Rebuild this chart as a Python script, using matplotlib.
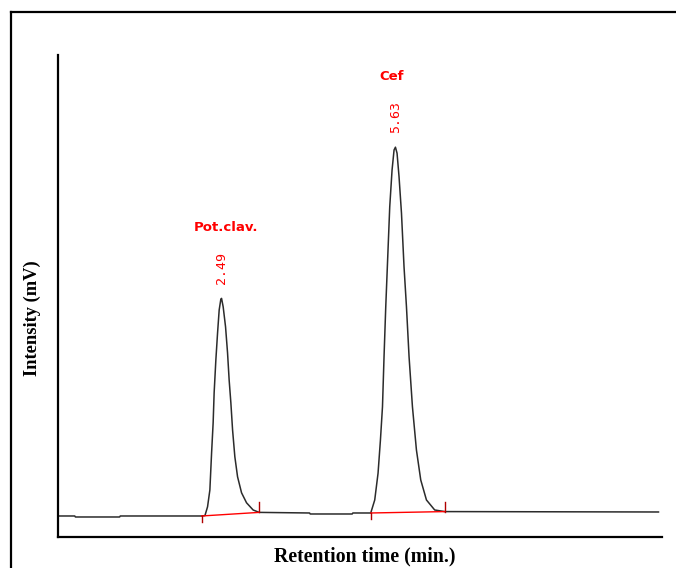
import numpy as np
import matplotlib
matplotlib.use("Agg")
import matplotlib.pyplot as plt
from matplotlib.lines import Line2D

# chromatogram trace: time (min) and intensity (mV)
timeMin = [-0.45, -0.16, -0.15, 0.65, 0.66, 2.13, 2.19, 2.237, 2.279, 2.310, 2.338, 2.356,
           2.387, 2.418, 2.447, 2.477, 2.49, 2.519, 2.562, 2.598, 2.627, 2.658, 2.689,
           2.730, 2.779, 2.851, 2.941, 3.060, 3.169, 4.08, 4.09, 4.85, 4.86, 5.184,
           5.256, 5.316, 5.359, 5.396, 5.424, 5.455, 5.491, 5.527, 5.569, 5.605, 5.63,
           5.659, 5.695, 5.739, 5.785, 5.829, 5.876, 5.937, 6.009, 6.087, 6.190, 6.339,
           6.520, 10.38]
intensity = [0.0, 0.0, -0.25, -0.25, 0.0, 0.0, 0.1, 2.3, 6.5, 15.8, 23.3, 30.8,
             39.0, 45.8, 51.5, 54.2, 54.4, 52.3, 47.3, 40.8, 34.0, 28.3, 21.5,
             14.8, 9.8, 5.8, 3.3, 1.5, 0.9, 0.75, 0.5, 0.5, 0.75, 0.75,
             4.0, 10.7, 19.0, 27.3, 39.8, 52.3, 64.8, 77.3, 86.5, 91.5, 92.2,
             90.7, 84.8, 75.7, 62.3, 52.3, 39.8, 27.3, 16.5, 9.0, 4.0, 1.5,
             1.1, 1.0]

peakNames = ["Pot.clav.", "Cef"]
peakTimes = [2.49, 5.63]
peakLabels = ["2.49", "5.63"]
peakStart = [2.13, 5.184]
peakEnd = [3.169, 6.52]

if __name__ == "__main__":
    t = np.array(timeMin)
    sig = np.array(intensity)

    fig = plt.figure(figsize=(6.76, 5.68), dpi=100)
    ax = fig.add_axes([0.0865, 0.0546, 0.8925, 0.8486])

    ax.plot(t, sig, c="#2b2b2b", lw=1.1, zorder=2)

    nameDx = [3.0, -2.5]   # horizontal shift of the peak names, points
    for pIdx in range(len(peakTimes)):
        y0 = np.interp(peakStart[pIdx], t, sig)
        y1 = np.interp(peakEnd[pIdx], t, sig)
        ax.plot([peakStart[pIdx], peakEnd[pIdx]], [y0, y1], c="red", lw=1.0, zorder=3)
        # start/end tick marks
        ax.plot([peakStart[pIdx]] * 2, [y0, y0 - 1.6], c="#b00000", lw=1.0, zorder=3)
        ax.plot([peakEnd[pIdx]] * 2, [y1, y1 + 2.5], c="#b00000", lw=1.0, zorder=3)
        apex = np.interp(peakTimes[pIdx], t, sig)
        ax.annotate(peakLabels[pIdx], xy=(peakTimes[pIdx], apex), xytext=(0, 10.5),
                    textcoords="offset points", rotation=90, ha="center", va="bottom",
                    color="red", fontsize=9.5, family="DejaVu Sans Mono")
        ax.annotate(peakNames[pIdx], xy=(peakTimes[pIdx], apex), xytext=(nameDx[pIdx], 46),
                    textcoords="offset points", ha="center", va="bottom",
                    color="red", fontsize=9.5, fontweight="bold", family="DejaVu Sans")

    ax.set_xlim(-0.455, 10.44)
    ax.set_ylim(-5.25, 115.25)
    ax.set_xticks([])
    ax.set_yticks([])
    for side in ["top", "right"]:
        ax.spines[side].set_visible(False)
    for side in ["left", "bottom"]:
        ax.spines[side].set_linewidth(1.6)
        ax.spines[side].set_color("black")

    fig.text(365 / 676, 1 - 556 / 568, "Retention time (min.)", ha="center", va="center",
             family="Liberation Serif", fontweight="bold", fontsize=14.2)
    fig.text(32 / 676, 1 - 318.5 / 568, "Intensity (mV)", ha="center", va="center", rotation=90,
             family="Liberation Serif", fontweight="bold", fontsize=13.3)

    # outer frame, cut off at right and bottom
    fx, fy = 11 / 676, 1 - 11.5 / 568
    fig.add_artist(Line2D([fx, fx], [0, fy], transform=fig.transFigure, c="black", lw=1.6))
    fig.add_artist(Line2D([fx, 1], [fy, fy], transform=fig.transFigure, c="black", lw=1.6))

    plt.savefig("out.png", dpi=100)
    plt.close()
